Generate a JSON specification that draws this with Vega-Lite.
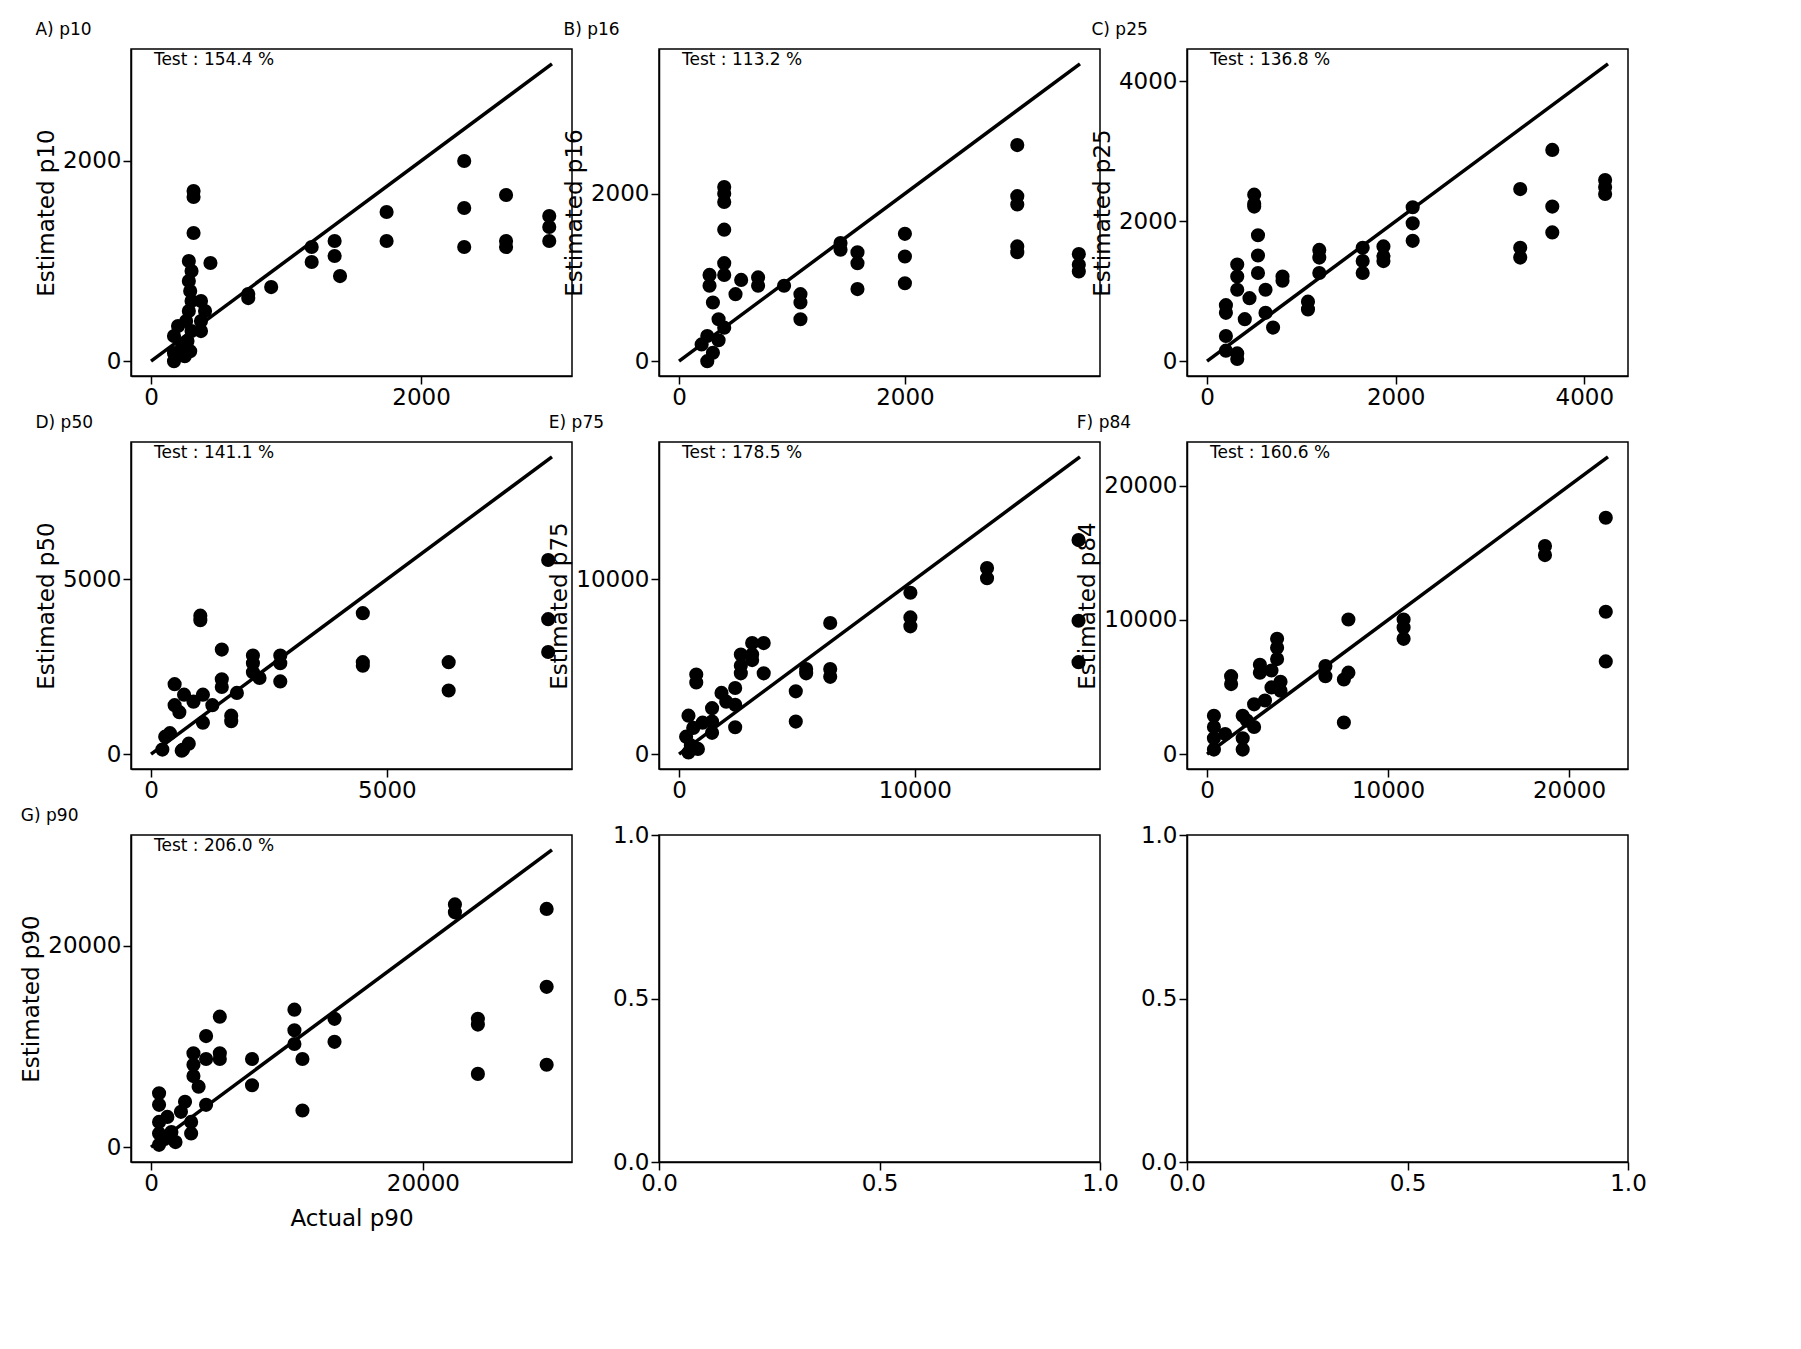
{
  "$schema": "https://vega.github.io/schema/vega-lite/v6.json",
  "background": "white",
  "padding": {"left": 20, "top": 20, "right": 30, "bottom": 10},
  "config": {
    "font": "DejaVu Sans",
    "view": {"stroke": "black", "strokeWidth": 1.5},
    "axis": {"grid": false, "labelFont": "DejaVu Sans", "titleFont": "DejaVu Sans", "labelFontSize": 23, "titleFontSize": 23, "titleFontWeight": "normal", "labelColor": "black", "titleColor": "black", "domainColor": "black", "tickColor": "black", "tickSize": 8, "tickWidth": 1.5, "domainWidth": 1.5, "labelFlush": false, "labelOverlap": false, "format": "d"},
    "title": {"font": "DejaVu Sans", "fontSize": 17, "fontWeight": "normal", "anchor": "start", "offset": 10, "color": "black"},
    "text": {"font": "DejaVu Sans"}
  },
  "datasets": {
    "pts": [
      {"p":"A","a":315,"e":1700},{"p":"A","a":315,"e":1640},{"p":"A","a":315,"e":1280},{"p":"A","a":280,"e":1000},{"p":"A","a":300,"e":900},{"p":"A","a":280,"e":800},{"p":"A","a":290,"e":700},{"p":"A","a":300,"e":600},{"p":"A","a":280,"e":500},{"p":"A","a":260,"e":400},{"p":"A","a":300,"e":300},{"p":"A","a":270,"e":200},{"p":"A","a":290,"e":100},{"p":"A","a":250,"e":50},{"p":"A","a":170,"e":250},{"p":"A","a":170,"e":80},{"p":"A","a":170,"e":0},{"p":"A","a":440,"e":980},{"p":"A","a":370,"e":600},{"p":"A","a":370,"e":400},{"p":"A","a":370,"e":300},{"p":"A","a":400,"e":500},{"p":"A","a":720,"e":670},{"p":"A","a":720,"e":630},{"p":"A","a":890,"e":740},{"p":"A","a":1190,"e":1140},{"p":"A","a":1190,"e":990},{"p":"A","a":1360,"e":1200},{"p":"A","a":1360,"e":1050},{"p":"A","a":1400,"e":850},{"p":"A","a":1745,"e":1490},{"p":"A","a":1745,"e":1200},{"p":"A","a":2320,"e":2000},{"p":"A","a":2320,"e":1530},{"p":"A","a":2320,"e":1140},{"p":"A","a":2630,"e":1660},{"p":"A","a":2630,"e":1200},{"p":"A","a":2630,"e":1140},{"p":"A","a":2950,"e":1450},{"p":"A","a":2950,"e":1340},{"p":"A","a":2950,"e":1200},{"p":"A","a":200,"e":350},{"p":"A","a":230,"e":150},
      {"p":"B","a":400,"e":2080},{"p":"B","a":400,"e":2000},{"p":"B","a":400,"e":1900},{"p":"B","a":400,"e":1570},{"p":"B","a":400,"e":1170},{"p":"B","a":400,"e":1030},{"p":"B","a":270,"e":1030},{"p":"B","a":270,"e":900},{"p":"B","a":300,"e":700},{"p":"B","a":350,"e":500},{"p":"B","a":250,"e":300},{"p":"B","a":300,"e":100},{"p":"B","a":250,"e":0},{"p":"B","a":400,"e":400},{"p":"B","a":500,"e":800},{"p":"B","a":550,"e":970},{"p":"B","a":700,"e":1000},{"p":"B","a":700,"e":900},{"p":"B","a":930,"e":900},{"p":"B","a":1075,"e":800},{"p":"B","a":1075,"e":700},{"p":"B","a":1075,"e":500},{"p":"B","a":1430,"e":1410},{"p":"B","a":1430,"e":1330},{"p":"B","a":1580,"e":1300},{"p":"B","a":1580,"e":1170},{"p":"B","a":1580,"e":860},{"p":"B","a":2000,"e":1520},{"p":"B","a":2000,"e":1250},{"p":"B","a":2000,"e":930},{"p":"B","a":2995,"e":2580},{"p":"B","a":2995,"e":1970},{"p":"B","a":2995,"e":1870},{"p":"B","a":2995,"e":1370},{"p":"B","a":2995,"e":1300},{"p":"B","a":3540,"e":1280},{"p":"B","a":3540,"e":1150},{"p":"B","a":3540,"e":1070},{"p":"B","a":200,"e":200},{"p":"B","a":350,"e":250},
      {"p":"C","a":500,"e":2380},{"p":"C","a":500,"e":2250},{"p":"C","a":500,"e":2210},{"p":"C","a":540,"e":1800},{"p":"C","a":540,"e":1510},{"p":"C","a":540,"e":1260},{"p":"C","a":320,"e":1380},{"p":"C","a":320,"e":1210},{"p":"C","a":320,"e":1020},{"p":"C","a":200,"e":800},{"p":"C","a":200,"e":690},{"p":"C","a":200,"e":360},{"p":"C","a":200,"e":150},{"p":"C","a":320,"e":110},{"p":"C","a":320,"e":30},{"p":"C","a":620,"e":1020},{"p":"C","a":620,"e":690},{"p":"C","a":700,"e":480},{"p":"C","a":800,"e":1210},{"p":"C","a":800,"e":1150},{"p":"C","a":1070,"e":850},{"p":"C","a":1070,"e":740},{"p":"C","a":1190,"e":1590},{"p":"C","a":1190,"e":1480},{"p":"C","a":1190,"e":1260},{"p":"C","a":1650,"e":1620},{"p":"C","a":1650,"e":1430},{"p":"C","a":1650,"e":1260},{"p":"C","a":1870,"e":1640},{"p":"C","a":1870,"e":1500},{"p":"C","a":1870,"e":1430},{"p":"C","a":2180,"e":2200},{"p":"C","a":2180,"e":1970},{"p":"C","a":2180,"e":1720},{"p":"C","a":3320,"e":2460},{"p":"C","a":3320,"e":1620},{"p":"C","a":3320,"e":1480},{"p":"C","a":3660,"e":3020},{"p":"C","a":3660,"e":2210},{"p":"C","a":3660,"e":1840},{"p":"C","a":4220,"e":2590},{"p":"C","a":4220,"e":2490},{"p":"C","a":4220,"e":2390},{"p":"C","a":450,"e":900},{"p":"C","a":400,"e":600},
      {"p":"D","a":1045,"e":3960},{"p":"D","a":1045,"e":3830},{"p":"D","a":1500,"e":2990},{"p":"D","a":1500,"e":2140},{"p":"D","a":1500,"e":1920},{"p":"D","a":1700,"e":1100},{"p":"D","a":1700,"e":940},{"p":"D","a":500,"e":2000},{"p":"D","a":700,"e":1700},{"p":"D","a":900,"e":1500},{"p":"D","a":600,"e":1200},{"p":"D","a":1100,"e":900},{"p":"D","a":400,"e":600},{"p":"D","a":800,"e":300},{"p":"D","a":650,"e":100},{"p":"D","a":680,"e":130},{"p":"D","a":240,"e":130},{"p":"D","a":2160,"e":2820},{"p":"D","a":2160,"e":2600},{"p":"D","a":2160,"e":2340},{"p":"D","a":2300,"e":2180},{"p":"D","a":2740,"e":2820},{"p":"D","a":2740,"e":2600},{"p":"D","a":2740,"e":2080},{"p":"D","a":4490,"e":4030},{"p":"D","a":4490,"e":2630},{"p":"D","a":4490,"e":2530},{"p":"D","a":6310,"e":2630},{"p":"D","a":6310,"e":1820},{"p":"D","a":8420,"e":5550},{"p":"D","a":8420,"e":3860},{"p":"D","a":8420,"e":2920},{"p":"D","a":1820,"e":1750},{"p":"D","a":1100,"e":1700},{"p":"D","a":1300,"e":1400},{"p":"D","a":500,"e":1400},{"p":"D","a":300,"e":500},
      {"p":"E","a":730,"e":4550},{"p":"E","a":730,"e":4100},{"p":"E","a":400,"e":2200},{"p":"E","a":600,"e":1500},{"p":"E","a":300,"e":1000},{"p":"E","a":500,"e":500},{"p":"E","a":400,"e":100},{"p":"E","a":1400,"e":2630},{"p":"E","a":1400,"e":1860},{"p":"E","a":1400,"e":1220},{"p":"E","a":2380,"e":3780},{"p":"E","a":2380,"e":2820},{"p":"E","a":2380,"e":1540},{"p":"E","a":2620,"e":5700},{"p":"E","a":2620,"e":5060},{"p":"E","a":2620,"e":4620},{"p":"E","a":3100,"e":6350},{"p":"E","a":3100,"e":5700},{"p":"E","a":3100,"e":5380},{"p":"E","a":3590,"e":6350},{"p":"E","a":3590,"e":4620},{"p":"E","a":4950,"e":3590},{"p":"E","a":4950,"e":1860},{"p":"E","a":5390,"e":4870},{"p":"E","a":5390,"e":4620},{"p":"E","a":6410,"e":7500},{"p":"E","a":6410,"e":4870},{"p":"E","a":6410,"e":4420},{"p":"E","a":9810,"e":9230},{"p":"E","a":9810,"e":7820},{"p":"E","a":9810,"e":7310},{"p":"E","a":13060,"e":10640},{"p":"E","a":13060,"e":10060},{"p":"E","a":16940,"e":12240},{"p":"E","a":16940,"e":7630},{"p":"E","a":16940,"e":5260},{"p":"E","a":1000,"e":1800},{"p":"E","a":1800,"e":3500},{"p":"E","a":2000,"e":3000},{"p":"E","a":800,"e":300},
      {"p":"F","a":380,"e":2860},{"p":"F","a":380,"e":2020},{"p":"F","a":380,"e":1180},{"p":"F","a":380,"e":340},{"p":"F","a":1330,"e":5810},{"p":"F","a":1330,"e":5220},{"p":"F","a":1970,"e":2860},{"p":"F","a":1970,"e":1180},{"p":"F","a":1970,"e":340},{"p":"F","a":2600,"e":3710},{"p":"F","a":2600,"e":2020},{"p":"F","a":2920,"e":6660},{"p":"F","a":2920,"e":6070},{"p":"F","a":3560,"e":6230},{"p":"F","a":3560,"e":4970},{"p":"F","a":3870,"e":8590},{"p":"F","a":3870,"e":7920},{"p":"F","a":3870,"e":7080},{"p":"F","a":4060,"e":5390},{"p":"F","a":4060,"e":4720},{"p":"F","a":6540,"e":6570},{"p":"F","a":6540,"e":5810},{"p":"F","a":7560,"e":5560},{"p":"F","a":7560,"e":2360},{"p":"F","a":7810,"e":10030},{"p":"F","a":7810,"e":6070},{"p":"F","a":10860,"e":10030},{"p":"F","a":10860,"e":9440},{"p":"F","a":10860,"e":8590},{"p":"F","a":18670,"e":15500},{"p":"F","a":18670,"e":14830},{"p":"F","a":22030,"e":17610},{"p":"F","a":22030,"e":10610},{"p":"F","a":22030,"e":6910},{"p":"F","a":1000,"e":1500},{"p":"F","a":2200,"e":2500},{"p":"F","a":3200,"e":4000},
      {"p":"G","a":590,"e":5340},{"p":"G","a":590,"e":4200},{"p":"G","a":590,"e":2500},{"p":"G","a":590,"e":1360},{"p":"G","a":590,"e":230},{"p":"G","a":1200,"e":3000},{"p":"G","a":1500,"e":1500},{"p":"G","a":1800,"e":500},{"p":"G","a":2200,"e":3500},{"p":"G","a":1000,"e":800},{"p":"G","a":3120,"e":9320},{"p":"G","a":3120,"e":8180},{"p":"G","a":3120,"e":7050},{"p":"G","a":2950,"e":2500},{"p":"G","a":2950,"e":1360},{"p":"G","a":4050,"e":11020},{"p":"G","a":4050,"e":8750},{"p":"G","a":4050,"e":4200},{"p":"G","a":5060,"e":12950},{"p":"G","a":5060,"e":9320},{"p":"G","a":5060,"e":8750},{"p":"G","a":7430,"e":8750},{"p":"G","a":7430,"e":6140},{"p":"G","a":10550,"e":13640},{"p":"G","a":10550,"e":11590},{"p":"G","a":10550,"e":10230},{"p":"G","a":11140,"e":8750},{"p":"G","a":11140,"e":3640},{"p":"G","a":13500,"e":12730},{"p":"G","a":13500,"e":10450},{"p":"G","a":22360,"e":24090},{"p":"G","a":22360,"e":23300},{"p":"G","a":24050,"e":12730},{"p":"G","a":24050,"e":12160},{"p":"G","a":24050,"e":7270},{"p":"G","a":29110,"e":23640},{"p":"G","a":29110,"e":15910},{"p":"G","a":29110,"e":8180},{"p":"G","a":3500,"e":6000},{"p":"G","a":2500,"e":4500}
    ],
    "lines": [
      {"p":"A","a":0,"e":0},{"p":"A","a":2970,"e":2970},
      {"p":"B","a":0,"e":0},{"p":"B","a":3550,"e":3550},
      {"p":"C","a":0,"e":0},{"p":"C","a":4250,"e":4250},
      {"p":"D","a":0,"e":0},{"p":"D","a":8500,"e":8500},
      {"p":"E","a":0,"e":0},{"p":"E","a":17000,"e":17000},
      {"p":"F","a":0,"e":0},{"p":"F","a":22150,"e":22150},
      {"p":"G","a":0,"e":0},{"p":"G","a":29500,"e":29500}
    ]
  },
  "columns": 3,
  "spacing": {"row": 66, "column": 87},
  "bounds": "flush",
  "concat": [
      {"width": 441, "height": 327, "title": "A) p10", "layer": [
        {"data": {"name": "pts"}, "transform": [{"filter": "datum.p=='A'"}], "mark": {"type": "circle", "size": 200, "color": "black", "opacity": 1},
         "encoding": {"x": {"field": "a", "type": "quantitative", "scale": {"domain": [-148.5, 3118.5], "nice": false, "zero": false}, "axis": {"values": [0, 2000], "title": null}},
                      "y": {"field": "e", "type": "quantitative", "scale": {"domain": [-148.5, 3118.5], "nice": false, "zero": false}, "axis": {"values": [0, 2000], "title": "Estimated p10"}}}},
        {"data": {"name": "lines"}, "transform": [{"filter": "datum.p=='A'"}], "mark": {"type": "line", "color": "black", "strokeWidth": 3.5}, "encoding": {"x": {"field": "a", "type": "quantitative"}, "y": {"field": "e", "type": "quantitative"}}},
        {"data": {"values": [{"t": "Test : 154.4 %"}]}, "mark": {"type": "text", "align": "left", "baseline": "middle", "fontSize": 17}, "encoding": {"x": {"datum": 21}, "y": {"datum": 3004}, "text": {"field": "t"}}}
      ]},
      {"width": 441, "height": 327, "title": "B) p16", "layer": [
        {"data": {"name": "pts"}, "transform": [{"filter": "datum.p=='B'"}], "mark": {"type": "circle", "size": 200, "color": "black", "opacity": 1},
         "encoding": {"x": {"field": "a", "type": "quantitative", "scale": {"domain": [-177.5, 3727.5], "nice": false, "zero": false}, "axis": {"values": [0, 2000], "title": null}},
                      "y": {"field": "e", "type": "quantitative", "scale": {"domain": [-177.5, 3727.5], "nice": false, "zero": false}, "axis": {"values": [0, 2000], "title": "Estimated p16"}}}},
        {"data": {"name": "lines"}, "transform": [{"filter": "datum.p=='B'"}], "mark": {"type": "line", "color": "black", "strokeWidth": 3.5}, "encoding": {"x": {"field": "a", "type": "quantitative"}, "y": {"field": "e", "type": "quantitative"}}},
        {"data": {"values": [{"t": "Test : 113.2 %"}]}, "mark": {"type": "text", "align": "left", "baseline": "middle", "fontSize": 17}, "encoding": {"x": {"datum": 26}, "y": {"datum": 3591}, "text": {"field": "t"}}}
      ]},
      {"width": 441, "height": 327, "title": "C) p25", "layer": [
        {"data": {"name": "pts"}, "transform": [{"filter": "datum.p=='C'"}], "mark": {"type": "circle", "size": 200, "color": "black", "opacity": 1},
         "encoding": {"x": {"field": "a", "type": "quantitative", "scale": {"domain": [-212.5, 4462.5], "nice": false, "zero": false}, "axis": {"values": [0, 2000, 4000], "title": null}},
                      "y": {"field": "e", "type": "quantitative", "scale": {"domain": [-212.5, 4462.5], "nice": false, "zero": false}, "axis": {"values": [0, 2000, 4000], "title": "Estimated p25"}}}},
        {"data": {"name": "lines"}, "transform": [{"filter": "datum.p=='C'"}], "mark": {"type": "line", "color": "black", "strokeWidth": 3.5}, "encoding": {"x": {"field": "a", "type": "quantitative"}, "y": {"field": "e", "type": "quantitative"}}},
        {"data": {"values": [{"t": "Test : 136.8 %"}]}, "mark": {"type": "text", "align": "left", "baseline": "middle", "fontSize": 17}, "encoding": {"x": {"datum": 31}, "y": {"datum": 4299}, "text": {"field": "t"}}}
      ]},
      {"width": 441, "height": 327, "title": "D) p50", "layer": [
        {"data": {"name": "pts"}, "transform": [{"filter": "datum.p=='D'"}], "mark": {"type": "circle", "size": 200, "color": "black", "opacity": 1},
         "encoding": {"x": {"field": "a", "type": "quantitative", "scale": {"domain": [-425, 8925], "nice": false, "zero": false}, "axis": {"values": [0, 5000], "title": null}},
                      "y": {"field": "e", "type": "quantitative", "scale": {"domain": [-425, 8925], "nice": false, "zero": false}, "axis": {"values": [0, 5000], "title": "Estimated p50"}}}},
        {"data": {"name": "lines"}, "transform": [{"filter": "datum.p=='D'"}], "mark": {"type": "line", "color": "black", "strokeWidth": 3.5}, "encoding": {"x": {"field": "a", "type": "quantitative"}, "y": {"field": "e", "type": "quantitative"}}},
        {"data": {"values": [{"t": "Test : 141.1 %"}]}, "mark": {"type": "text", "align": "left", "baseline": "middle", "fontSize": 17}, "encoding": {"x": {"datum": 61}, "y": {"datum": 8598}, "text": {"field": "t"}}}
      ]},
      {"width": 441, "height": 327, "title": "E) p75", "layer": [
        {"data": {"name": "pts"}, "transform": [{"filter": "datum.p=='E'"}], "mark": {"type": "circle", "size": 200, "color": "black", "opacity": 1},
         "encoding": {"x": {"field": "a", "type": "quantitative", "scale": {"domain": [-850, 17850], "nice": false, "zero": false}, "axis": {"values": [0, 10000], "title": null}},
                      "y": {"field": "e", "type": "quantitative", "scale": {"domain": [-850, 17850], "nice": false, "zero": false}, "axis": {"values": [0, 10000], "title": "Estimated p75"}}}},
        {"data": {"name": "lines"}, "transform": [{"filter": "datum.p=='E'"}], "mark": {"type": "line", "color": "black", "strokeWidth": 3.5}, "encoding": {"x": {"field": "a", "type": "quantitative"}, "y": {"field": "e", "type": "quantitative"}}},
        {"data": {"values": [{"t": "Test : 178.5 %"}]}, "mark": {"type": "text", "align": "left", "baseline": "middle", "fontSize": 17}, "encoding": {"x": {"datum": 122}, "y": {"datum": 17196}, "text": {"field": "t"}}}
      ]},
      {"width": 441, "height": 327, "title": "F) p84", "layer": [
        {"data": {"name": "pts"}, "transform": [{"filter": "datum.p=='F'"}], "mark": {"type": "circle", "size": 200, "color": "black", "opacity": 1},
         "encoding": {"x": {"field": "a", "type": "quantitative", "scale": {"domain": [-1107.5, 23257.5], "nice": false, "zero": false}, "axis": {"values": [0, 10000, 20000], "title": null}},
                      "y": {"field": "e", "type": "quantitative", "scale": {"domain": [-1107.5, 23257.5], "nice": false, "zero": false}, "axis": {"values": [0, 10000, 20000], "title": "Estimated p84"}}}},
        {"data": {"name": "lines"}, "transform": [{"filter": "datum.p=='F'"}], "mark": {"type": "line", "color": "black", "strokeWidth": 3.5}, "encoding": {"x": {"field": "a", "type": "quantitative"}, "y": {"field": "e", "type": "quantitative"}}},
        {"data": {"values": [{"t": "Test : 160.6 %"}]}, "mark": {"type": "text", "align": "left", "baseline": "middle", "fontSize": 17}, "encoding": {"x": {"datum": 159}, "y": {"datum": 22405}, "text": {"field": "t"}}}
      ]},
      {"width": 441, "height": 327, "title": "G) p90", "layer": [
        {"data": {"name": "pts"}, "transform": [{"filter": "datum.p=='G'"}], "mark": {"type": "circle", "size": 200, "color": "black", "opacity": 1},
         "encoding": {"x": {"field": "a", "type": "quantitative", "scale": {"domain": [-1475, 30975], "nice": false, "zero": false}, "axis": {"values": [0, 20000], "title": "Actual p90", "titlePadding": 12}},
                      "y": {"field": "e", "type": "quantitative", "scale": {"domain": [-1475, 30975], "nice": false, "zero": false}, "axis": {"values": [0, 20000], "title": "Estimated p90"}}}},
        {"data": {"name": "lines"}, "transform": [{"filter": "datum.p=='G'"}], "mark": {"type": "line", "color": "black", "strokeWidth": 3.5}, "encoding": {"x": {"field": "a", "type": "quantitative"}, "y": {"field": "e", "type": "quantitative"}}},
        {"data": {"values": [{"t": "Test : 206.0 %"}]}, "mark": {"type": "text", "align": "left", "baseline": "middle", "fontSize": 17}, "encoding": {"x": {"datum": 212}, "y": {"datum": 29839}, "text": {"field": "t"}}}
      ]},
      {"width": 441, "height": 327, "data": {"values": [{"a": 0, "e": 0}]}, "mark": {"type": "circle", "opacity": 0},
       "encoding": {"x": {"field": "a", "type": "quantitative", "scale": {"domain": [0, 1], "nice": false}, "axis": {"values": [0, 0.5, 1], "format": ".1f", "title": null}},
                    "y": {"field": "e", "type": "quantitative", "scale": {"domain": [0, 1], "nice": false}, "axis": {"values": [0, 0.5, 1], "format": ".1f", "title": null}}}},
      {"width": 441, "height": 327, "data": {"values": [{"a": 0, "e": 0}]}, "mark": {"type": "circle", "opacity": 0},
       "encoding": {"x": {"field": "a", "type": "quantitative", "scale": {"domain": [0, 1], "nice": false}, "axis": {"values": [0, 0.5, 1], "format": ".1f", "title": null}},
                    "y": {"field": "e", "type": "quantitative", "scale": {"domain": [0, 1], "nice": false}, "axis": {"values": [0, 0.5, 1], "format": ".1f", "title": null}}}}
  ]
}
